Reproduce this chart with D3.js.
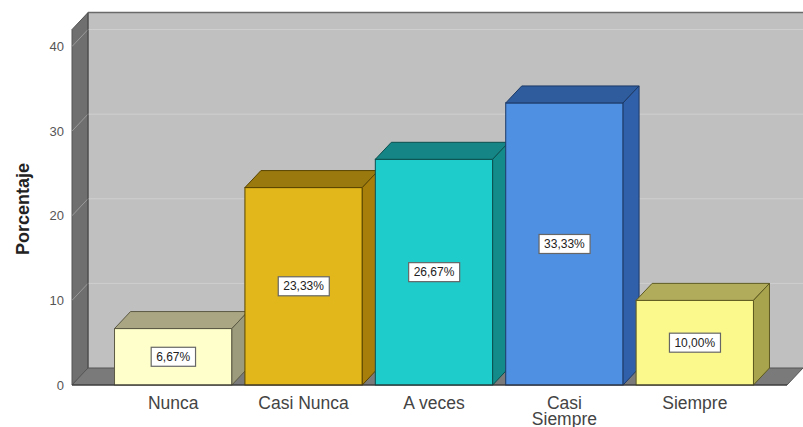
<!DOCTYPE html>
<html><head><meta charset="utf-8">
<script src="https://cdn.jsdelivr.net/npm/d3@7"></script>
<style>
html,body{margin:0;padding:0;background:#fff;}
svg{display:block;font-family:"Liberation Sans",Arial,sans-serif;}
</style></head>
<body>
<svg id="chart" width="803" height="427"></svg>
<script>
const categories = ["Nunca", "Casi Nunca", "A veces", "Casi Siempre", "Siempre"];
const values = [6.67, 23.33, 26.67, 33.33, 10.00];
const valueLabels = ["6,67%", "23,33%", "26,67%", "33,33%", "10,00%"];
const yTicks = [0, 10, 20, 30, 40];
const frontColors = ["#ffffcc", "#e2b71b", "#1fcccc", "#5090e2", "#fbf98c"];
const topColors   = ["#aaa684", "#9a7a0f", "#168585", "#2e5c9c", "#b1ab5c"];
const sideColors  = ["#9c9b7c", "#a87e0a", "#138b8b", "#3160aa", "#a8a44e"];
const strokeColors= ["#5c5a44", "#5a4500", "#0b5050", "#1d3a66", "#5e5a20"];
const yAxisTitle = "Porcentaje";
const wallMax = 42;

const svg = d3.select("#chart");
const frontLeft = 72, frontRight = 787, base = 385;
const dx = 16, dy = 17;

const y = d3.scaleLinear().domain([0, 40]).range([base, 46.5]);
const x = d3.scaleBand().domain(categories).range([108, 760]).paddingInner(0.1).paddingOuter(0.05);

const wallTop = y(wallMax);

// back wall
svg.append("rect").attr("x", frontLeft + dx).attr("y", wallTop - dy)
  .attr("width", 803 - frontLeft - dx).attr("height", base - dy - (wallTop - dy))
  .attr("fill", "#c0c0c0");
// side wall
svg.append("polygon")
  .attr("points", [[frontLeft, wallTop], [frontLeft + dx, wallTop - dy], [frontLeft + dx, base - dy], [frontLeft, base]].join(" "))
  .attr("fill", "#6f6f6f").attr("stroke", "#555").attr("stroke-width", 1);
// gridlines
yTicks.filter(t => t > 0).forEach(t => {
  svg.append("line").attr("x1", frontLeft + dx).attr("x2", 803)
    .attr("y1", y(t) - dy).attr("y2", y(t) - dy).attr("stroke", "#cfcfcf").attr("stroke-width", 1);
  svg.append("line").attr("x1", frontLeft).attr("x2", frontLeft + dx)
    .attr("y1", y(t)).attr("y2", y(t) - dy).attr("stroke", "#9a9a9a").attr("stroke-width", 1);
});
// wall borders
svg.append("line").attr("x1", frontLeft + dx).attr("x2", 803).attr("y1", wallTop - dy).attr("y2", wallTop - dy)
  .attr("stroke", "#6a6a6a").attr("stroke-width", 1.5);
svg.append("line").attr("x1", frontLeft + dx).attr("x2", frontLeft + dx).attr("y1", wallTop - dy).attr("y2", base - dy)
  .attr("stroke", "#4a4a4a").attr("stroke-width", 1);
// floor
svg.append("polygon")
  .attr("points", [[frontLeft, base], [frontLeft + dx, base - dy], [803, base - dy], [frontRight, base]].join(" "))
  .attr("fill", "#7a7a7a").attr("stroke", "#555").attr("stroke-width", 1);

// bars
const g = svg.append("g");
categories.forEach((c, i) => {
  const x0 = x(c), w = x.bandwidth(), yt = y(values[i]);
  const bg = g.append("g");
  bg.append("rect").attr("x", x0).attr("y", yt).attr("width", w).attr("height", base - yt)
    .attr("fill", frontColors[i]).attr("stroke", strokeColors[i]).attr("stroke-width", 1);
  bg.append("polygon")
    .attr("points", [[x0, yt], [x0 + dx, yt - dy], [x0 + w + dx, yt - dy], [x0 + w, yt]].join(" "))
    .attr("fill", topColors[i]).attr("stroke", strokeColors[i]).attr("stroke-width", 1);
  bg.append("polygon")
    .attr("points", [[x0 + w, yt], [x0 + w + dx, yt - dy], [x0 + w + dx, base - dy], [x0 + w, base]].join(" "))
    .attr("fill", sideColors[i]).attr("stroke", strokeColors[i]).attr("stroke-width", 1);
  // value label
  const cx = x0 + w / 2, cy = (yt + base) / 2;
  const t = bg.append("text").attr("x", cx).attr("y", cy + 4).attr("text-anchor", "middle")
    .attr("font-size", 12).attr("fill", "#222").text(valueLabels[i]);
  const bb = t.node().getBBox();
  bg.insert("rect", "text").attr("x", bb.x - 5).attr("y", cy - 9.5).attr("width", bb.width + 10).attr("height", 19)
    .attr("fill", "#fff").attr("stroke", "#666").attr("stroke-width", 1.2);
});
// front baseline
svg.append("line").attr("x1", frontLeft).attr("x2", frontRight).attr("y1", base).attr("y2", base)
  .attr("stroke", "#333").attr("stroke-width", 1);

// y axis
const yAxis = svg.append("g").attr("transform", "translate(67,0)")
  .call(d3.axisLeft(y).tickValues(yTicks).tickSize(0).tickPadding(3));
yAxis.select(".domain").remove();
yAxis.selectAll("text").attr("font-size", 13).attr("fill", "#555").attr("font-family", "Liberation Sans, Arial, sans-serif");

// x axis labels
const xAxis = svg.append("g").attr("transform", `translate(0,${base})`)
  .call(d3.axisBottom(x).tickSize(0).tickPadding(0));
xAxis.select(".domain").remove();
xAxis.selectAll("text").attr("font-size", 17.5).attr("fill", "#444")
  .attr("font-family", "Liberation Sans, Arial, sans-serif").attr("dy", null).attr("y", 24)
  .each(function(d) {
    const words = d.split(" ");
    const el = d3.select(this);
    if (d === "Casi Siempre") {
      el.text(null);
      words.forEach((wd, k) => el.append("tspan").attr("x", 0).attr("dy", k === 0 ? 0 : 16).text(wd));
    }
  });

// y title
svg.append("text").attr("transform", "translate(29,209) rotate(-90)").attr("text-anchor", "middle")
  .attr("font-size", 18).attr("font-weight", "bold").attr("fill", "#222").text(yAxisTitle);
</script>
</body></html>
